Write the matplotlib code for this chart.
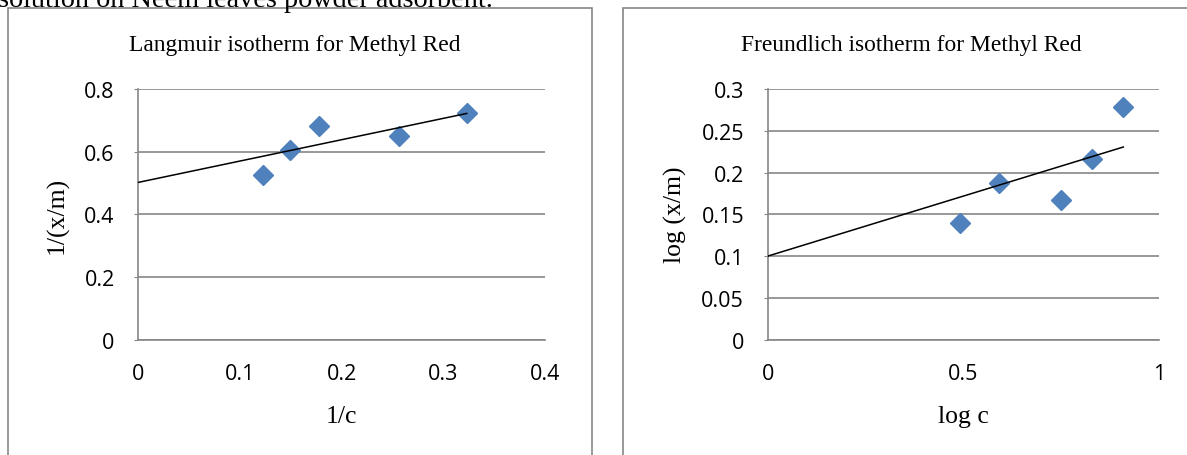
import matplotlib.pyplot as plt
from matplotlib.patches import Rectangle

# Langmuir data (1/c vs 1/(x/m))
lang_x = [0.123, 0.149, 0.178, 0.256, 0.323]
lang_y = [0.526, 0.605, 0.682, 0.649, 0.724]
lang_fit = [0.681, 0.502]  # slope, intercept of drawn trendline

# Freundlich data (log c vs log (x/m))
freu_x = [0.491, 0.591, 0.749, 0.827, 0.908]
freu_y = [0.140, 0.1875, 0.1675, 0.216, 0.279]
freu_fit = [0.1438, 0.100]

lang_ticks_x = [0, 0.1, 0.2, 0.3, 0.4]
lang_ticks_y = [0, 0.2, 0.4, 0.6, 0.8]
freu_ticks_x = [0, 0.5, 1]
freu_ticks_y = [0, 0.05, 0.1, 0.15, 0.2, 0.25, 0.3]

W, H = 1187, 456
fig = plt.figure(figsize=(W / 100, H / 100), dpi=100)

grey = "#868686"
blue = "#4F81BD"
serif = "Liberation Serif"
tickfont = "Open Sans"

# cut-off caption line at the top of the page
fig.text(-2 / W, 1 - 7 / H, "solution on Neem leaves powder adsorbent.",
         fontsize=20.3, family=serif, va="baseline", ha="left")

# chart frames
fig.patches.append(Rectangle((8 / W, -0.1), 584 / W, 1.1 - 9 / H,
                             transform=fig.transFigure, fill=False,
                             edgecolor=grey, lw=1.2))
fig.patches.append(Rectangle((623 / W, -0.1), 600 / W, 1.1 - 9 / H,
                             transform=fig.transFigure, fill=False,
                             edgecolor=grey, lw=1.2))


def setup(ax, xt, yt, title, xlabel, ylabel, ylab_x, title_x):
    ax.set_xlim(xt[0], xt[-1])
    ax.set_ylim(yt[0], yt[-1])
    ax.set_xticks(xt)
    ax.set_yticks(yt)
    ax.set_xticklabels([("%g" % v) for v in xt])
    ax.set_yticklabels([("%g" % v) for v in yt])
    for s in ["top", "right"]:
        ax.spines[s].set_visible(False)
    ax.spines["left"].set_color(grey)
    ax.spines["bottom"].set_color(grey)
    ax.spines["left"].set_linewidth(1.2)
    ax.spines["bottom"].set_linewidth(1.2)
    ax.grid(axis="y", color=grey, lw=1.2)
    ax.set_axisbelow(True)
    ax.tick_params(axis="y", length=3, color=grey, pad=14, labelsize=15.5)
    ax.tick_params(axis="x", length=0, pad=17, labelsize=15.5)
    for lab in ax.get_xticklabels() + ax.get_yticklabels():
        lab.set_family(tickfont)
    fig.text(((ax.get_position().x0 + ax.get_position().x1) / 2), 1 - 417 / H,
             xlabel, family=serif, fontsize=18.5, ha="center", va="center")
    fig.text(ylab_x / W, 1 - 215 / H, ylabel, family=serif, fontsize=18.5,
             rotation=90, ha="center", va="center")
    fig.text(title_x / W, 1 - 46 / H, title, family=serif, fontsize=16.9,
             ha="center", va="center")


ax1 = fig.add_axes([138.3 / W, 1 - 340.7 / H, 406.7 / W, 250.7 / H])
ax1.plot(lang_x, lang_y, "D", color=blue, ms=10, mec=blue, zorder=3)
ax1.plot([0, max(lang_x)],
         [lang_fit[1], lang_fit[1] + lang_fit[0] * max(lang_x)],
         color="black", lw=1.1, zorder=4)
setup(ax1, lang_ticks_x, lang_ticks_y, "Langmuir isotherm for Methyl Red",
      "1/c", "1/(x/m)", 57, 295)

ax2 = fig.add_axes([767.7 / W, 1 - 340.7 / H, 391.6 / W, 250.7 / H])
ax2.plot(freu_x, freu_y, "D", color=blue, ms=10, mec=blue, zorder=3)
ax2.plot([0, max(freu_x)],
         [freu_fit[1], freu_fit[1] + freu_fit[0] * max(freu_x)],
         color="black", lw=1.1, zorder=4)
setup(ax2, freu_ticks_x, freu_ticks_y, "Freundlich isotherm for Methyl Red",
      "log c", "log (x/m)", 675, 911)

fig.savefig("out.png", dpi=100)
